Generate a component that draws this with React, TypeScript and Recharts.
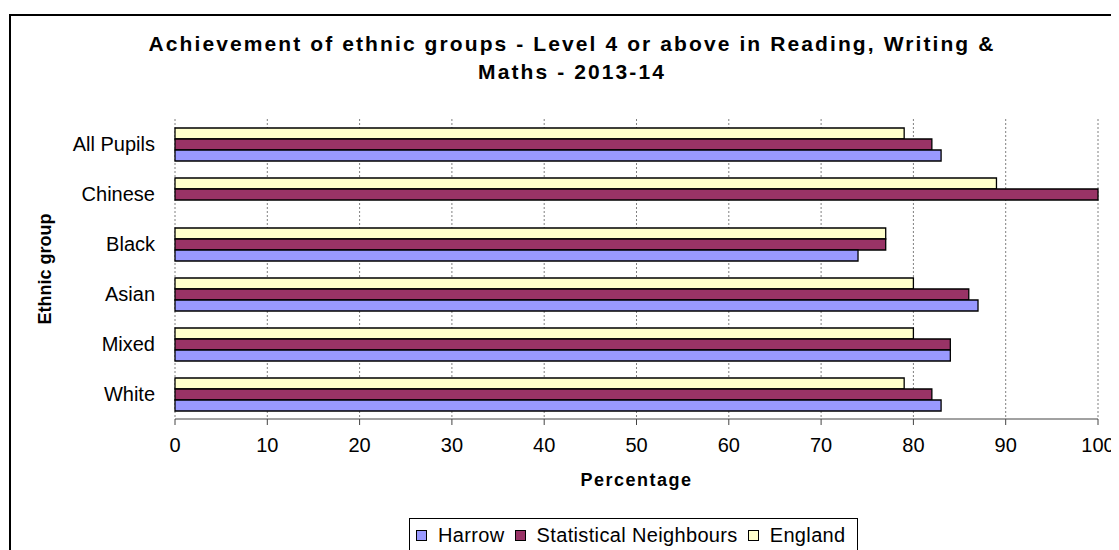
import React from "react"
import { BarChart, Bar, XAxis, YAxis, CartesianGrid } from "recharts"

// Ethnic groups, top to bottom
const categories = ["All Pupils", "Chinese", "Black", "Asian", "Mixed", "White"]

// % reaching Level 4+ in reading, writing & maths, 2013-14
const harrow = [83, null, 74, 87, 84, 83]
const statNeighbours = [82, 100, 77, 86, 84, 82]
const england = [79, 89, 77, 80, 80, 79]

const xTicks = [0, 10, 20, 30, 40, 50, 60, 70, 80, 90, 100]
const boundaryTicks = [0, 1, 2, 3, 4, 5, 6]

const COLORS = { harrow: "#9999FF", sn: "#993366", england: "#FFFFCC" }
const FONT = "'Liberation Sans', Arial, sans-serif"

const data = categories.map((name, i) => ({
  name,
  harrow: harrow[i],
  sn: statNeighbours[i],
  england: england[i],
}))

const legendItems = [
  { label: "Harrow", color: COLORS.harrow },
  { label: "Statistical Neighbours", color: COLORS.sn },
  { label: "England", color: COLORS.england },
]

export default function App() {
  return (
    <div style={{ position: "relative", width: 1111, height: 542, overflow: "hidden", fontFamily: FONT }}>
      {/* outer chart frame, runs off the right and bottom */}
      <div
        style={{
          position: "absolute",
          left: 1,
          top: 6,
          width: 1300,
          height: 700,
          border: "2px solid #000",
        }}
      />
      <div
        style={{
          position: "absolute",
          left: 64,
          width: 1000,
          top: 22,
          textAlign: "center",
          fontWeight: "bold",
          fontSize: 21,
          letterSpacing: 2.1,
          lineHeight: "28px",
          color: "#000",
        }}
      >
        Achievement of ethnic groups - Level 4 or above in Reading, Writing &amp;
        <br />
        Maths - 2013-14
      </div>

      <div style={{ position: "absolute", left: 0, top: 0 }}>
        <BarChart
          width={1111}
          height={542}
          data={data}
          layout="vertical"
          margin={{ top: 111, right: 21, left: 0, bottom: 101 }}
          barGap={0}
        >
          <CartesianGrid
            horizontal={false}
            vertical={true}
            stroke="#808080"
            strokeDasharray="2 2"
            yAxisId="bounds"
          />
          <XAxis
            type="number"
            domain={[0, 100]}
            ticks={xTicks}
            interval={0}
            tickSize={6}
            tickMargin={13}
            axisLine={{ stroke: "#444" }}
            tickLine={{ stroke: "#444" }}
            tick={{ fill: "#000", fontSize: 20, fontFamily: FONT }}
            height={30}
            label={{
              content: (props: any) => {
                const vb = props.viewBox
                return (
                  <text
                    x={vb.x + vb.width / 2}
                    y={vb.y + 61}
                    textAnchor="middle"
                    dominantBaseline="central"
                    fontWeight="bold"
                    fontSize={18}
                    letterSpacing={1.5}
                    fontFamily={FONT}
                    fill="#000"
                  >
                    Percentage
                  </text>
                )
              },
            }}
          />
          <YAxis
            yAxisId="bounds"
            type="number"
            domain={[0, 6]}
            ticks={boundaryTicks}
            interval={0}
            width={0}
            tick={false}
            tickSize={5}
            axisLine={{ stroke: "#000" }}
            tickLine={{ stroke: "#000" }}
          />
          <YAxis
            yAxisId="cat"
            type="category"
            dataKey="name"
            width={167}
            axisLine={false}
            tickLine={false}
            tickSize={5}
            tickMargin={15}
            tick={{ fill: "#000", fontSize: 20, fontFamily: FONT }}
            label={{
              content: (props: any) => {
                const vb = props.viewBox
                const cx = vb.x + 37
                const cy = vb.y + vb.height / 2
                return (
                  <text
                    x={cx}
                    y={cy}
                    transform={`rotate(-90, ${cx}, ${cy})`}
                    textAnchor="middle"
                    dominantBaseline="central"
                    fontWeight="bold"
                    fontSize={18}
                    fontFamily={FONT}
                    fill="#000"
                  >
                    Ethnic group
                  </text>
                )
              },
            }}
          />
          <Bar yAxisId="cat" dataKey="england" fill={COLORS.england} stroke="#000" strokeWidth={1.3} barSize={11} isAnimationActive={false} />
          <Bar yAxisId="cat" dataKey="sn" fill={COLORS.sn} stroke="#000" strokeWidth={1.3} barSize={11} isAnimationActive={false} />
          <Bar yAxisId="cat" dataKey="harrow" fill={COLORS.harrow} stroke="#000" strokeWidth={1.3} barSize={11} isAnimationActive={false} />
        </BarChart>
      </div>

      {/* legend box, cut by the bottom edge like the original */}
      <div
        style={{
          position: "absolute",
          left: 401,
          top: 510,
          width: 449,
          height: 60,
          border: "1.5px solid #000",
          background: "#fff",
          display: "flex",
          alignItems: "flex-start",
          paddingTop: 5,
          paddingLeft: 6,
          boxSizing: "border-box",
          fontSize: 20,
          color: "#000",
          whiteSpace: "nowrap",
        }}
      >
        {legendItems.map((it) => (
          <div
            key={it.label}
            style={{ display: "flex", alignItems: "center", marginRight: 10, height: 22, flexShrink: 0 }}
          >
            <span
              style={{
                display: "inline-block",
                width: 9,
                height: 9,
                background: it.color,
                border: "1px solid #000",
                marginRight: 11,
                flexShrink: 0,
              }}
            />
            <span style={{ letterSpacing: 0.35 }}>{it.label}</span>
          </div>
        ))}
      </div>
    </div>
  )
}
